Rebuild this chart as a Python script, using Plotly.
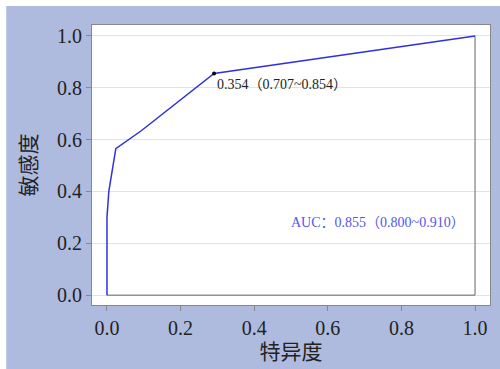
import plotly.graph_objects as go

# ROC data
fpr = [0.0, 0.0, 0.005, 0.024, 0.094, 0.291, 1.0]
tpr = [0.0, 0.30, 0.40, 0.565, 0.635, 0.855, 1.0]
cut_x = [0.291]
cut_y = [0.855]
cut_label = "0.354（0.707~0.854）"
auc_label = "AUC：0.855（0.800~0.910）"
frame_x = [0.0, 1.0, 1.0]
frame_y = [0.0, 0.0, 1.0]
tick_vals = [0.0, 0.2, 0.4, 0.6, 0.8, 1.0]
tick_text = ["0.0", "0.2", "0.4", "0.6", "0.8", "1.0"]

font_fam = "Liberation Serif, Noto Sans CJK SC, serif"

fig = go.Figure()
fig.add_trace(go.Scatter(x=frame_x, y=frame_y, mode="lines",
                         line=dict(color="#666666", width=1), hoverinfo="skip"))
fig.add_trace(go.Scatter(x=fpr, y=tpr, mode="lines",
                         line=dict(color="#3030e0", width=1.5)))
fig.add_trace(go.Scatter(x=cut_x, y=cut_y, mode="markers",
                         marker=dict(color="black", size=4)))

fig.add_annotation(x=cut_x[0], y=cut_y[0], text=cut_label, showarrow=False,
                   xanchor="left", yanchor="top", xshift=1, yshift=-2,
                   font=dict(family=font_fam, size=14, color="#222222"))
fig.add_annotation(x=0.737, y=0.282, text=auc_label, showarrow=False,
                   xanchor="center", yanchor="middle",
                   font=dict(family=font_fam, size=14, color="#5555ee"))

# white margin strips at top and left of the figure
fig.add_shape(type="rect", xref="paper", yref="paper",
              x0=-0.25, x1=1.1, y0=1.0675, y1=1.2,
              fillcolor="white", line=dict(width=0))
fig.add_shape(type="rect", xref="paper", yref="paper",
              x0=-0.25, x1=-0.2155, y0=-0.3, y1=1.2,
              fillcolor="white", line=dict(width=0))

axis_common = dict(
    showgrid=False, zeroline=False, showline=True, linecolor="#888888",
    linewidth=1, mirror=True, ticks="outside", ticklen=5, tickcolor="#888888",
    tickvals=tick_vals, ticktext=tick_text,
    tickfont=dict(family=font_fam, size=20, color="#222222"),
)
fig.update_layout(
    width=500, height=369,
    margin=dict(l=92, r=9, t=25, b=61),
    paper_bgcolor="#aebbdf", plot_bgcolor="white",
    showlegend=False,
    xaxis=dict(axis_common, range=[-0.0407, 1.0407],
               title=dict(text="特异度", standoff=6,
                          font=dict(family=font_fam, size=21, color="#222222"))),
    yaxis=dict(axis_common, range=[-0.038, 1.042], showgrid=True,
               gridcolor="#e2e2e2", gridwidth=1,
               title=dict(text="敏感度", standoff=14,
                          font=dict(family=font_fam, size=21, color="#222222"))),
)
fig.write_html("out.html")
